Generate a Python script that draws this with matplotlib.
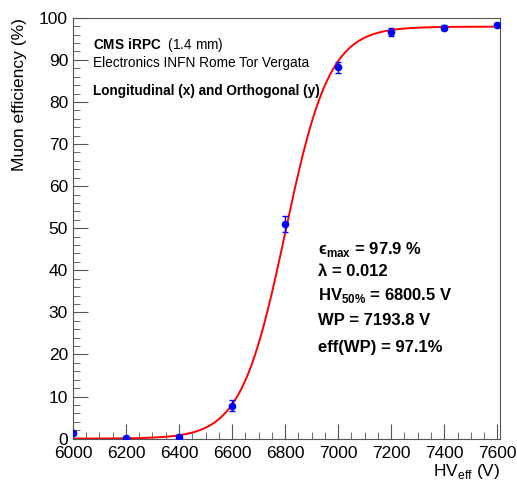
import matplotlib
matplotlib.use("Agg")
import matplotlib.pyplot as plt
import numpy as np
from matplotlib.ticker import MultipleLocator

plt.rcParams['font.family'] = ['Liberation Sans', 'DejaVu Sans']
plt.rcParams['mathtext.fontset'] = 'custom'
plt.rcParams['mathtext.rm'] = 'Liberation Sans'
plt.rcParams['mathtext.bf'] = 'Liberation Sans:bold'

# measured points
hv = [6000, 6200, 6400, 6600, 6800, 7000, 7200, 7400, 7600]
eff = [1.3, 0.2, 0.3, 7.8, 51.0, 88.2, 96.6, 97.7, 98.3]
err = [0.5, 0.2, 0.2, 1.3, 2.0, 1.3, 0.9, 0.7, 0.5]

# sigmoid fit parameters (from the box)
eff_max = 97.9
lam = 0.012
hv50 = 6800.5

fig = plt.figure(figsize=(5.17, 4.82), dpi=100)
ax = fig.add_axes([0.141, 0.090, 0.826, 0.873])

xf = np.linspace(6000, 7600, 400)
yf = eff_max / (1 + np.exp(-lam * (xf - hv50)))
ax.plot(xf, yf, color='red', linewidth=1.4, zorder=2)

ax.errorbar(hv, eff, yerr=err, fmt='o', color='blue', markersize=4.5,
            elinewidth=1.0, capsize=2, capthick=1.0, zorder=3)

ax.set_xlim(6000, 7610)
ax.set_ylim(0, 100)
ax.xaxis.set_major_locator(MultipleLocator(200))
ax.xaxis.set_minor_locator(MultipleLocator(50))
ax.yaxis.set_major_locator(MultipleLocator(10))
ax.yaxis.set_minor_locator(MultipleLocator(2))
ax.tick_params(which='both', direction='in', labelsize=12.5, color='#555555')
ax.tick_params(which='major', length=11)
ax.tick_params(which='minor', length=5)
ax.tick_params(axis='x', pad=5.5)
for s in ax.spines.values():
    s.set_color('#555555')

ax.set_ylabel("Muon efficiency (%)", fontsize=12.5, loc='top', labelpad=9)
ax.set_xlabel(r"HV$_{\mathrm{eff}}$ (V)", fontsize=12.5, loc='right', labelpad=0.5)

ax.text(0.047, 0.935, r"$\bf{CMS\ iRPC}$  (1.4 mm)", transform=ax.transAxes,
        fontsize=9.8, va='center')
ax.text(0.047, 0.893, "Electronics INFN Rome Tor Vergata", transform=ax.transAxes,
        fontsize=9.8, va='center')
ax.text(0.047, 0.826, "Longitudinal (x) and Orthogonal (y)", transform=ax.transAxes,
        fontsize=9.8, va='center', fontweight='bold')

stats = [r"ϵ$_{\mathbf{max}}$ = 97.9 %",
         "λ = 0.012",
         r"HV$_{\mathbf{50\%}}$ = 6800.5 V",
         "WP = 7193.8 V",
         "eff(WP) = 97.1%"]
ys = [0.450, 0.398, 0.340, 0.281, 0.217]
for s, y in zip(stats, ys):
    ax.text(0.574, y, s, transform=ax.transAxes, fontsize=12,
            fontweight='bold', va='center')

fig.savefig("out.png", dpi=100)
